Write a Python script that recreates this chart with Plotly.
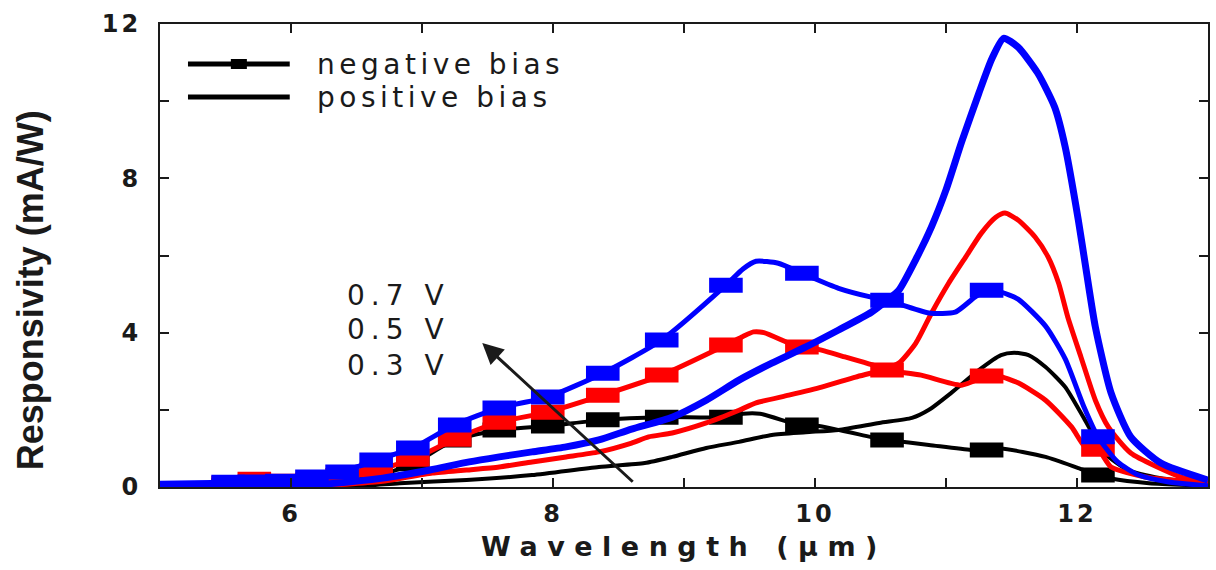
import plotly.graph_objects as go

# ---------------- data (wavelength in um, responsivity in mA/W) ----------------
# wavelengths where the negative-bias curves carry square markers
lam_mk = [5.52, 5.72, 5.93, 6.16, 6.39, 6.65, 6.93, 7.25, 7.59, 7.96, 8.38, 8.83,
          9.32, 9.90, 10.55, 11.31, 12.16]
neg07_mk = [0.12, 0.13, 0.15, 0.26, 0.39, 0.70, 1.01, 1.61, 2.05, 2.33, 2.95, 3.81,
            5.23, 5.54, 4.84, 5.10, 1.30]
neg05_mk = [0.10, 0.20, 0.15, 0.18, 0.30, 0.44, 0.72, 1.24, 1.68, 1.94, 2.38, 2.90,
            3.68, 3.63, 3.03, 2.88, 0.98]
neg03_mk = [0.03, 0.04, 0.05, 0.08, 0.12, 0.28, 0.60, 1.22, 1.48, 1.58, 1.74, 1.81,
            1.81, 1.61, 1.22, 0.96, 0.31]

# negative bias, 0.7 V (blue)
lam_neg07 = [5.0, 5.52, 5.72, 5.93, 6.16, 6.39, 6.65, 6.93, 7.25, 7.59, 7.96, 8.38, 8.83,
             9.32, 9.45, 9.55, 9.72, 9.90, 10.18, 10.43, 10.55, 10.87, 11.07, 11.22, 11.31,
             11.42, 11.55, 11.76, 11.91, 12.05, 12.16, 12.31, 12.47, 12.70, 13.0]
neg07 = [0.10, 0.12, 0.13, 0.15, 0.26, 0.39, 0.70, 1.01, 1.61, 2.05, 2.33, 2.95, 3.81,
         5.23, 5.65, 5.85, 5.80, 5.54, 5.15, 4.92, 4.84, 4.51, 4.53, 4.92, 5.10,
         5.05, 4.87, 4.17, 3.32, 2.10, 1.30, 0.65, 0.31, 0.13, 0.03]

# negative bias, 0.5 V (red)
lam_neg05 = [5.0, 5.52, 5.72, 5.93, 6.16, 6.39, 6.65, 6.93, 7.25, 7.59, 7.96, 8.38, 8.83,
             9.32, 9.45, 9.53, 9.61, 9.82, 9.90, 10.01, 10.23, 10.49, 10.55, 10.81, 11.12,
             11.31, 11.40, 11.55, 11.76, 11.96, 12.06, 12.16, 12.26, 12.52, 13.0]
neg05 = [0.05, 0.10, 0.20, 0.15, 0.18, 0.30, 0.44, 0.72, 1.24, 1.68, 1.94, 2.38, 2.90,
         3.68, 3.90, 4.02, 4.00, 3.70, 3.63, 3.58, 3.37, 3.11, 3.03, 2.90, 2.64,
         2.88, 2.88, 2.70, 2.25, 1.55, 1.05, 0.98, 0.52, 0.26, 0.10]

# negative bias, 0.3 V (black)
lam_neg03 = [5.0, 5.52, 5.72, 5.93, 6.16, 6.39, 6.65, 6.93, 7.25, 7.59, 7.96, 8.38, 8.83,
             9.32, 9.45, 9.58, 9.82, 9.90, 10.03, 10.49, 10.55, 10.87, 11.19, 11.31, 11.42,
             11.76, 12.01, 12.16, 12.26, 12.55, 13.0]
neg03 = [0.02, 0.03, 0.04, 0.05, 0.08, 0.12, 0.28, 0.60, 1.22, 1.48, 1.58, 1.74, 1.81,
         1.81, 1.90, 1.90, 1.66, 1.61, 1.58, 1.25, 1.22, 1.09, 0.96, 0.96, 1.00,
         0.78, 0.49, 0.31, 0.22, 0.10, 0.03]

# positive bias, 0.7 V (blue)
lam_pos07 = [5.0, 6.0, 6.27, 6.70, 7.06, 7.36, 7.59, 7.84, 8.10, 8.35, 8.60, 8.91, 9.17,
             9.42, 9.67, 9.93, 10.18, 10.43, 10.55, 10.64, 10.77, 10.89, 11.00, 11.12,
             11.25, 11.35, 11.44, 11.55, 11.70, 11.83, 11.91, 12.01, 12.07, 12.14, 12.26,
             12.41, 12.64, 13.0]
pos07 = [0.02, 0.03, 0.08, 0.23, 0.44, 0.65, 0.78, 0.91, 1.04, 1.22, 1.50, 1.81, 2.25,
         2.77, 3.21, 3.63, 4.07, 4.53, 4.84, 5.10, 5.90, 6.75, 7.70, 8.95,
         10.20, 11.10, 11.63, 11.40, 10.73, 9.84, 8.81, 6.92, 5.62, 4.15, 2.44,
         1.30, 0.62, 0.18]

# positive bias, 0.5 V (red)
lam_pos05 = [5.0, 6.2, 6.70, 6.83, 7.08, 7.34, 7.59, 7.84, 8.10, 8.35, 8.60, 8.73, 8.91,
             9.17, 9.42, 9.55, 9.80, 10.05, 10.31, 10.51, 10.64, 10.77, 10.89, 11.02,
             11.15, 11.27, 11.38, 11.45, 11.55, 11.68, 11.78, 11.86, 11.93, 12.03, 12.14,
             12.24, 12.41, 12.79, 13.0]
pos05 = [0.0, 0.03, 0.15, 0.22, 0.36, 0.44, 0.52, 0.65, 0.78, 0.91, 1.14, 1.30, 1.40,
         1.66, 1.99, 2.18, 2.38, 2.59, 2.85, 3.03, 3.21, 3.73, 4.51, 5.28,
         5.96, 6.58, 6.99, 7.10, 6.92, 6.48, 5.96, 5.28, 4.40, 3.37, 2.25,
         1.55, 0.88, 0.26, 0.10]

# positive bias, 0.3 V (black)
lam_pos03 = [5.0, 6.5, 6.83, 7.34, 7.84, 8.35, 8.70, 8.91, 9.17, 9.42, 9.67, 9.93, 10.18,
             10.49, 10.74, 10.87, 11.04, 11.25, 11.42, 11.52, 11.63, 11.76, 11.91, 12.06,
             12.21, 12.39, 12.64, 13.0]
pos03 = [0.0, 0.02, 0.10, 0.18, 0.31, 0.52, 0.62, 0.78, 1.01, 1.17, 1.35, 1.42, 1.48,
         1.66, 1.79, 2.00, 2.44, 3.03, 3.42, 3.48, 3.42, 3.11, 2.59, 1.74,
         0.88, 0.44, 0.23, 0.10]

x_ticks = [6, 8, 10, 12]
y_ticks = [0, 4, 8, 12]
voltage_labels = ["0.7 V", "0.5 V", "0.3 V"]
legend_labels = ["negative bias", "positive bias"]

BLUE, RED, BLACK = "#0000FF", "#FF0000", "#000000"
INK = "#1a1a1a"

fig = go.Figure()


def add_line(x, y, color, width):
    fig.add_trace(go.Scatter(x=x, y=y, mode="lines",
                             line=dict(color=color, width=width, shape="spline", smoothing=0.6),
                             showlegend=False, hoverinfo="skip"))


def add_markers(x, y, color):
    fig.add_trace(go.Scatter(x=x, y=y, mode="markers",
                             marker=dict(symbol="line-ew", size=24,
                                         line=dict(color=color, width=15)),
                             showlegend=False, hoverinfo="skip"))


add_line(lam_pos03, pos03, BLACK, 4)
add_line(lam_neg03, neg03, BLACK, 4)
add_markers(lam_mk, neg03_mk, BLACK)
add_line(lam_pos05, pos05, RED, 5)
add_line(lam_neg05, neg05, RED, 5)
add_markers(lam_mk, neg05_mk, RED)
add_line(lam_pos07, pos07, BLUE, 7)
add_line(lam_neg07, neg07, BLUE, 5)
add_markers(lam_mk, neg07_mk, BLUE)


def spaced(t, px):
    return f"<span style='letter-spacing:{px}px'>{t}</span>"


tick_font = dict(family="DejaVu Sans", size=24, color=INK, weight="bold")

fig.update_xaxes(
    range=[5, 13], tickmode="array", tickvals=x_ticks,
    ticktext=[spaced(str(v), 3) for v in x_ticks],
    ticks="inside", ticklen=9, tickwidth=2, tickcolor=INK,
    minor=dict(tickvals=[7, 9, 11], ticks="inside", ticklen=9, tickwidth=2, tickcolor=INK),
    showline=True, linewidth=2, linecolor=INK, mirror="ticks",
    showgrid=False, zeroline=False, tickfont=tick_font, ticklabelstandoff=4,
    title=dict(text=spaced("Wavelength (μm)", 9.5), standoff=10,
               font=dict(family="DejaVu Sans", size=27, color=INK, weight="bold")),
)
fig.update_yaxes(
    range=[0, 12], tickmode="array", tickvals=y_ticks,
    ticktext=[spaced(str(v), 3) for v in y_ticks],
    ticks="inside", ticklen=9, tickwidth=2, tickcolor=INK,
    minor=dict(tickvals=[2, 6, 10], ticks="inside", ticklen=9, tickwidth=2, tickcolor=INK),
    showline=True, linewidth=2, linecolor=INK, mirror="ticks",
    showgrid=False, zeroline=False, tickfont=tick_font, ticklabelstandoff=12,
)

# y-axis title (placed as in the reference, slightly below the axis centre)
fig.add_annotation(x=-0.124, y=0.425, xref="paper", yref="paper",
                   text="Responsivity (mA/W)", textangle=-90, showarrow=False,
                   xanchor="center", yanchor="middle",
                   font=dict(family="Liberation Sans", size=36, color=INK, weight="bold"))

# voltage labels and arrow
for lab, yv in zip(voltage_labels, [4.97, 4.07, 3.16]):
    fig.add_annotation(x=6.41, y=yv, xref="x", yref="y", text=spaced(lab, 6),
                       showarrow=False, xanchor="left", yanchor="middle",
                       font=dict(family="DejaVu Sans", size=28, color=INK))
fig.add_annotation(x=7.46, y=3.73, ax=8.62, ay=0.10, xref="x", yref="y",
                   axref="x", ayref="y", text="", showarrow=True,
                   arrowhead=2, arrowsize=1.4, arrowwidth=3, arrowcolor=INK)

# hand-drawn legend (in paper coordinates)
leg_x0, leg_x1 = 0.0267, 0.1238
leg_y = [0.9136, 0.8423]
for yy in leg_y:
    fig.add_shape(type="line", xref="paper", yref="paper", x0=leg_x0, x1=leg_x1,
                  y0=yy, y1=yy, line=dict(color=BLACK, width=5))
fig.add_shape(type="rect", xref="paper", yref="paper", x0=0.0676, x1=0.0829,
              y0=leg_y[0] - 0.0108, y1=leg_y[0] + 0.0108,
              line=dict(width=0), fillcolor=BLACK)
for lab, yy in zip(legend_labels, leg_y):
    fig.add_annotation(x=0.1476, y=yy, xref="paper", yref="paper", text=spaced(lab, 4.5),
                       showarrow=False, xanchor="left", yanchor="middle",
                       font=dict(family="DejaVu Sans", size=28, color=INK))

fig.update_layout(
    width=1216, height=570,
    margin=dict(l=160, r=6, t=24, b=83),
    plot_bgcolor="white", paper_bgcolor="white",
    showlegend=False,
)

fig.write_html("out.html", config={"displayModeBar": False},
               post_script="document.body.style.margin='0px';document.body.style.overflow='hidden';")
